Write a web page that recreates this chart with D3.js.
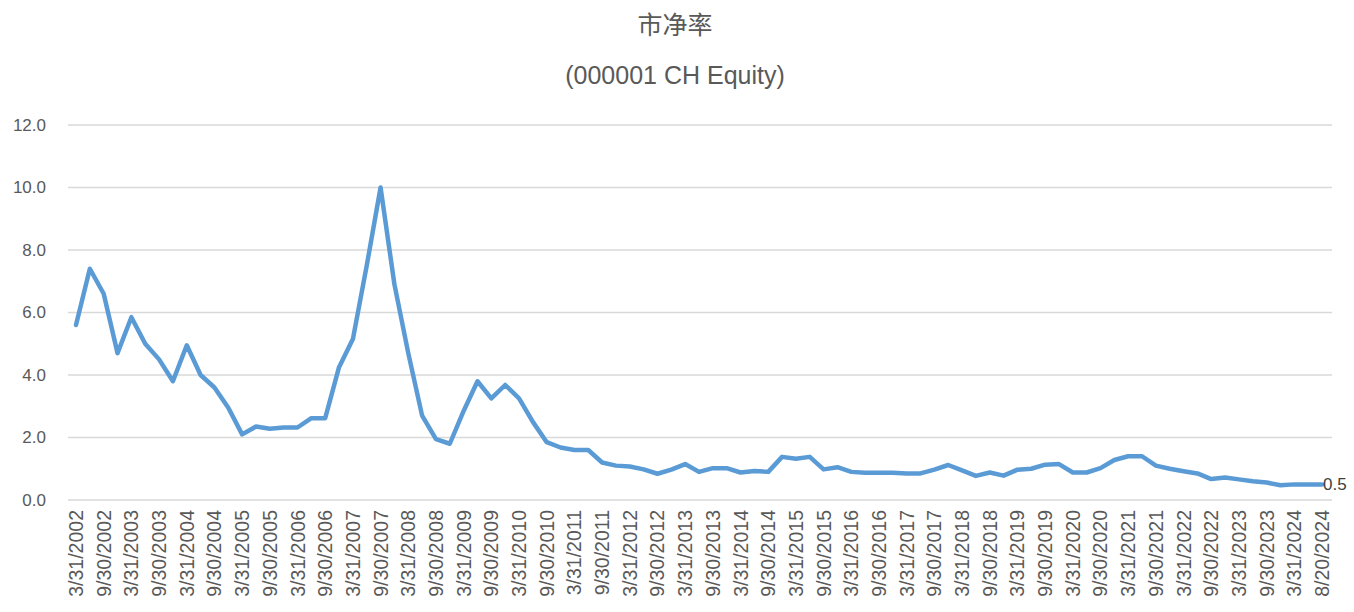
<!DOCTYPE html>
<html><head><meta charset="utf-8">
<script src="https://cdn.jsdelivr.net/npm/d3@7"></script>
<style>body{margin:0;background:#fff}</style>
</head><body>
<svg id="chart" width="1354" height="612"></svg>
<script>
const quarterEnds = ["3/31", "6/30", "9/30", "12/31"];
const dates = [];
for (let y = 2002; y <= 2024; y++) {
  quarterEnds.forEach((q, i) => {
    if (y === 2024 && i > 1) return;
    dates.push(`${q}/${y}`);
  });
}
dates.push("8/20/2024");

const pb = [
  5.6, 7.4, 6.6, 4.7, 5.85, 5.0, 4.5, 3.8, 4.95, 4.0, 3.6, 2.95, 2.1, 2.35, 2.28, 2.32, 2.32, 2.62, 2.62, 4.25,
  5.15, 7.5, 10.0, 6.9, 4.7, 2.7, 1.95, 1.8, 2.85, 3.8, 3.25, 3.68, 3.25, 2.5, 1.85, 1.68, 1.6, 1.6, 1.2, 1.1,
  1.07, 0.98, 0.84, 0.97, 1.15, 0.9, 1.02, 1.02, 0.88, 0.93, 0.9, 1.38, 1.32, 1.38, 0.98, 1.05, 0.9, 0.87, 0.87, 0.87,
  0.85, 0.85, 0.97, 1.12, 0.95, 0.77, 0.88, 0.78, 0.97, 1.0, 1.13, 1.15, 0.88, 0.88, 1.02, 1.28, 1.4, 1.4, 1.1, 1.0,
  0.92, 0.85, 0.67, 0.72, 0.66, 0.6, 0.56, 0.47, 0.5, 0.5, 0.5
];
const yTicks = [0, 2, 4, 6, 8, 10, 12];

const svg = d3.select("#chart");
const font = "'Liberation Sans','Noto Sans CJK SC',sans-serif";
const grey = "#595959";

const x = d3.scalePoint().domain(dates).range([76, 1322]);
const y = d3.scaleLinear().domain([0, 12]).range([500, 125]);

// gridlines
svg.append("g").selectAll("line").data(yTicks).join("line")
  .attr("x1", 68).attr("x2", 1332)
  .attr("y1", d => y(d)).attr("y2", d => y(d))
  .attr("stroke", "#d9d9d9").attr("stroke-width", 1.3);

// y labels
svg.append("g").selectAll("text").data(yTicks).join("text")
  .attr("x", 46).attr("y", d => y(d)).attr("dy", "0.35em")
  .attr("text-anchor", "end").attr("font-family", font).attr("font-size", 17)
  .attr("fill", grey).text(d => d.toFixed(1));

// x labels (every other quarter)
svg.append("g").selectAll("text").data(dates.filter((d, i) => i % 2 === 0)).join("text")
  .attr("transform", d => `translate(${x(d) + 7},510) rotate(-90)`)
  .attr("text-anchor", "end").attr("font-family", font).attr("font-size", 19.5)
  .attr("fill", grey).text(d => d);

// line
svg.append("path").datum(pb)
  .attr("fill", "none").attr("stroke", "#5b9bd5").attr("stroke-width", 4.5)
  .attr("stroke-linejoin", "round").attr("stroke-linecap", "round")
  .attr("d", d3.line().x((d, i) => x(dates[i])).y(d => y(d)));

// last value label
svg.append("text")
  .attr("x", x(dates[dates.length - 1]) + 1).attr("y", y(pb[pb.length - 1])).attr("dy", "0.35em")
  .attr("font-family", font).attr("font-size", 17).attr("fill", "#404040")
  .text(pb[pb.length - 1].toFixed(1));

// titles
svg.append("text").attr("x", 675).attr("y", 34).attr("text-anchor", "middle")
  .attr("font-family", "'Noto Sans CJK SC',sans-serif").attr("font-size", 25).attr("fill", grey).text("市净率");
svg.append("text").attr("x", 675).attr("y", 84).attr("text-anchor", "middle")
  .attr("font-family", font).attr("font-size", 25).attr("fill", grey).text("(000001 CH Equity)");
</script>
</body></html>
